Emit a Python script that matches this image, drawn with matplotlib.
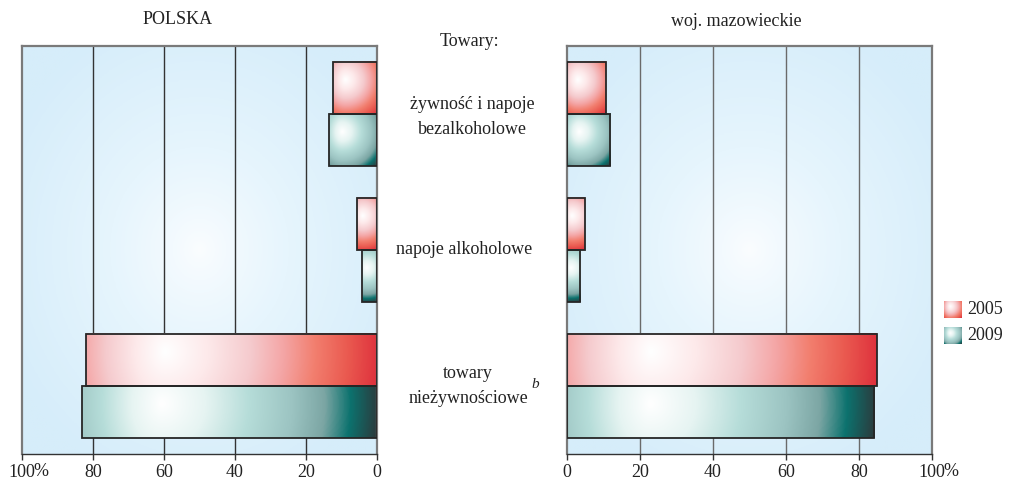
"""Struktura wydatkow - POLSKA i woj. mazowieckie, 2005 i 2009."""

import numpy as np
import matplotlib
matplotlib.use('Agg')
import matplotlib.pyplot as plt
from matplotlib.colors import LinearSegmentedColormap

plt.rcParams['font.family'] = ['Liberation Serif', 'DejaVu Serif']

# data (percent)
categories = ['żywność i napoje\nbezalkoholowe', 'napoje alkoholowe', 'towary\nnieżywnościowe']
years = ['2005', '2009']
polska_2005 = [12.5, 5.6, 82.0]
polska_2009 = [13.4, 4.3, 83.0]
mazow_2005 = [10.6, 4.8, 84.8]
mazow_2009 = [11.8, 3.6, 84.2]
tick_values = [0, 20, 40, 60, 80, 100]
tick_labels = ['0', '20', '40', '60', '80', '100']

W, H = 1010, 486
FS = 13

red_cmap = LinearSegmentedColormap.from_list('red', [
    (0.0, '#ffffff'), (0.2, '#fde9ea'), (0.4, '#f5cacd'), (0.55, '#f4a6a6'),
    (0.7, '#f27e6e'), (0.85, '#ea5a50'), (1.0, '#de303c')])
teal_cmap = LinearSegmentedColormap.from_list('teal', [
    (0.0, '#ffffff'), (0.2, '#e6f4f2'), (0.4, '#b6ddd9'), (0.6, '#9cc4c2'),
    (0.75, '#7ca6a4'), (0.87, '#0c726e'), (1.0, '#2c3a3c')])
bg_cmap = LinearSegmentedColormap.from_list('bg', ['#fbfdff', '#e6f5fd', '#d6edfa'])


def bar_gradient(cmap, w_px, h_px, fx=0.27, fy=0.35):
    # round highlight in pixel space, darkest towards the lower right corner
    nx = max(int(w_px), 2)
    ny = max(int(h_px), 2)
    xp = np.linspace(0, w_px, nx)[None, :]
    yp = np.linspace(0, h_px, ny)[:, None]
    r = 1.0 * np.hypot((1 - fx) * w_px, (1 - fy) * h_px)
    dx = xp - fx * w_px
    dx = np.where(dx < 0, dx * 1.45, dx)
    d = np.sqrt(dx ** 2 + (yp - fy * h_px) ** 2) / r
    return cmap(np.clip(d, 0, 1))


def background(n=200):
    x = np.linspace(-1, 1, n)[None, :]
    y = np.linspace(-1, 1, n)[:, None]
    d = np.clip(np.sqrt(x ** 2 + y ** 2) / 1.2, 0, 1)
    return bg_cmap(d ** 0.8)


def px(x0, y0, x1, y1):
    return [x0 / W, 1 - y1 / H, (x1 - x0) / W, (y1 - y0) / H]


fig = plt.figure(figsize=(W / 100, H / 100), dpi=100)
ax_pl = fig.add_axes(px(22, 46, 377, 454))
ax_mz = fig.add_axes(px(567, 46, 932, 454))

n = len(categories)
ypos = np.arange(n)[::-1].astype(float)
h = 0.385
grid_col = {'pl': '#333333', 'mz': '#6a6a6a'}
panel_px = {'pl': 355, 'mz': 365}
unit_h_px = 408 / n

for ax, v05, v09, key in [(ax_pl, polska_2005, polska_2009, 'pl'),
                          (ax_mz, mazow_2005, mazow_2009, 'mz')]:
    ax.imshow(background(), extent=(0, 1, 0, 1), transform=ax.transAxes,
              aspect='auto', zorder=0)
    for g in tick_values[1:-1]:
        ax.axvline(g, color=grid_col[key], lw=1.0, zorder=1)

    b05 = ax.barh(ypos, v05, height=h, align='edge', facecolor='none',
                  edgecolor='#262626', lw=1.3, zorder=3)
    b09 = ax.barh(ypos - h, v09, height=h, align='edge', facecolor='none',
                  edgecolor='#262626', lw=1.3, zorder=3)
    for bars, cmap in [(b05, red_cmap), (b09, teal_cmap)]:
        for p in bars:
            x0, w = p.get_x(), p.get_width()
            y0, hh = p.get_y(), p.get_height()
            img = bar_gradient(cmap, w * panel_px[key] / 100, hh * unit_h_px)
            # column 0 always sits on the screen-left side of the bar
            if key == 'pl':
                ext = (x0 + w, x0, y0, y0 + hh)
            else:
                ext = (x0, x0 + w, y0, y0 + hh)
            ax.imshow(img, extent=ext, origin='upper', aspect='auto',
                      zorder=2, interpolation='bilinear')

    ax.set_ylim(-0.5, n - 0.5)
    if key == 'pl':
        ax.set_xlim(100, 0)
    else:
        ax.set_xlim(0, 100)
    ax.set_yticks([])
    ax.set_xticks(tick_values)
    ax.set_xticklabels(tick_labels, fontsize=FS, color='#222222')
    ax.tick_params(axis='x', direction='out', length=4, width=1.0,
                   color='#333333', pad=3.5)
    for s in ['left', 'right', 'top']:
        ax.spines[s].set_color('#7a7a7a')
        ax.spines[s].set_linewidth(1.6)
    ax.spines['bottom'].set_color('#333333')
    ax.spines['bottom'].set_linewidth(1.0)
    ax.annotate('%', xy=(100, 0), xycoords=('data', 'axes fraction'),
                xytext=(8.3, -6.8), textcoords='offset points',
                ha='left', va='top', fontsize=FS, color='#222222')

fig.text(178 / W, 1 - 20 / H, 'POLSKA', ha='center', va='center',
         fontsize=FS, color='#222222')
fig.text(736 / W, 1 - 21 / H, 'woj. mazowieckie', ha='center', va='center',
         fontsize=FS, color='#222222')
fig.text(469 / W, 1 - 42 / H, 'Towary:', ha='center', va='center',
         fontsize=FS, color='#222222')

label_y = [117, 250, 386]
label_x = [472, 464, 468]
for txt, yy, xx in zip(categories, label_y, label_x):
    fig.text(xx / W, 1 - yy / H, txt, ha='center', va='center',
             fontsize=FS, color='#222222', linespacing=1.6)
fig.text(531 / W, 1 - 384 / H, 'b', ha='left', va='center', style='italic',
         fontsize=FS - 2, color='#222222')

# legend
for i, (yr, cmap) in enumerate(zip(years, [red_cmap, teal_cmap])):
    y0 = 301 + i * 26
    lax = fig.add_axes(px(944, y0, 961, y0 + 17))
    lax.imshow(bar_gradient(cmap, 40, 40, fx=0.35, fy=0.35), aspect='auto',
               interpolation='bilinear')
    lax.axis('off')
    fig.text(967 / W, 1 - (y0 + 8.5) / H, yr, ha='left', va='center',
             fontsize=FS, color='#222222')

fig.savefig('out.png', dpi=100)
